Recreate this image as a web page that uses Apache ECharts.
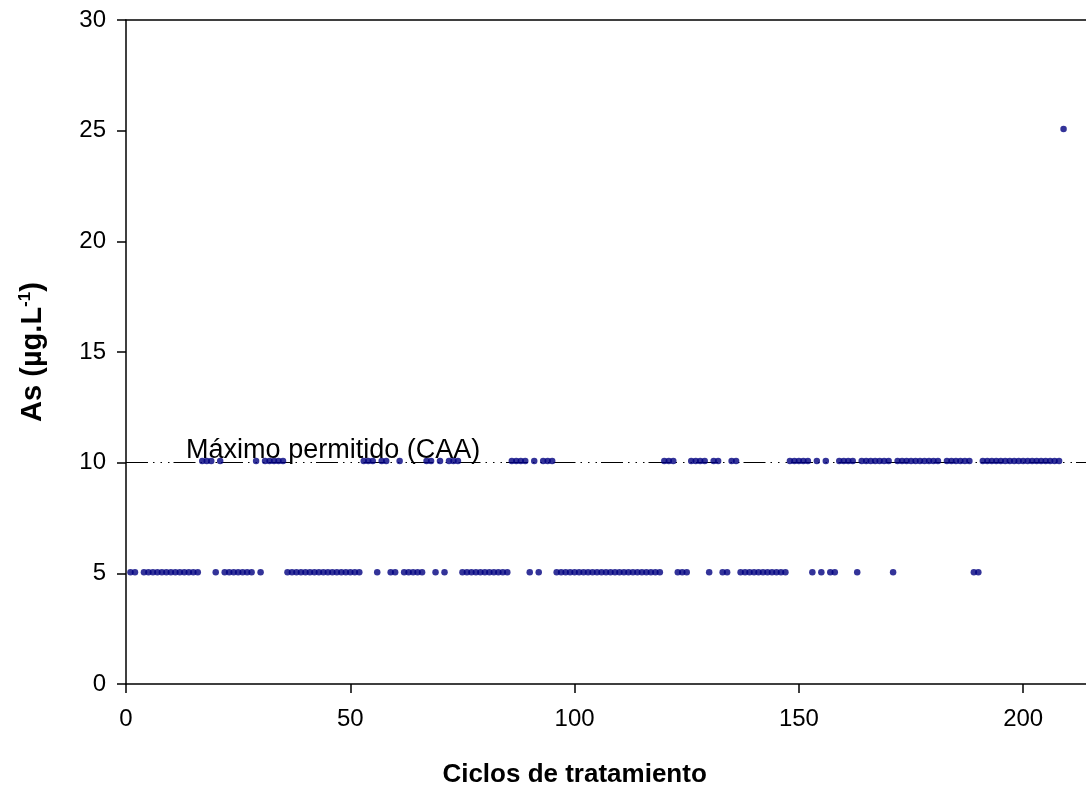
<!DOCTYPE html>
<html>
<head>
<meta charset="utf-8">
<style>
  html, body { margin: 0; padding: 0; background: #ffffff; }
  #chart { width: 1086px; height: 792px; }
</style>
<script src="https://cdn.jsdelivr.net/npm/echarts@6/dist/echarts.min.js"></script>
</head>
<body>
<div id="chart"></div>
<script>
// ---- data ----
const xTickValues = [0, 50, 100, 150, 200];
const yTickValues = [0, 5, 10, 15, 20, 25, 30];

// cycles whose As reading sits on the ~5 level
const cyclesLow = [1, 2, 4, 5, 6, 7, 8, 9, 10, 11, 12, 13, 14, 15, 16, 20, 22, 23, 24, 25, 26, 27, 28, 30,
  36, 37, 38, 39, 40, 41, 42, 43, 44, 45, 46, 47, 48, 49, 50, 51, 52, 56, 59, 60, 62, 63, 64, 65, 66, 69, 71,
  75, 76, 77, 78, 79, 80, 81, 82, 83, 84, 85, 90, 92,
  96, 97, 98, 99, 100, 101, 102, 103, 104, 105, 106, 107, 108, 109, 110, 111, 112, 113, 114, 115, 116, 117, 118, 119,
  123, 124, 125, 130, 133, 134, 137, 138, 139, 140, 141, 142, 143, 144, 145, 146, 147,
  153, 155, 157, 158, 163, 171, 189, 190];
const valueLow = 5.05;

// cycles whose As reading sits on the ~10 level
const cyclesHigh = [17, 18, 19, 21, 29, 31, 32, 33, 34, 35, 53, 54, 55, 57, 58, 61, 67, 68, 70, 72, 73, 74,
  86, 87, 88, 89, 91, 93, 94, 95, 120, 121, 122, 126, 127, 128, 129, 131, 132, 135, 136,
  148, 149, 150, 151, 152, 154, 156, 159, 160, 161, 162, 164, 165, 166, 167, 168, 169, 170,
  172, 173, 174, 175, 176, 177, 178, 179, 180, 181, 183, 184, 185, 186, 187, 188,
  191, 192, 193, 194, 195, 196, 197, 198, 199, 200, 201, 202, 203, 204, 205, 206, 207, 208];
const valueHigh = 10.07;

// the single outlier
const cyclesPeak = [209];
const valuesPeak = [25.07];

const limitValue = 10;
const limitLabel = 'Máximo permitido (CAA)';
const xTitle = 'Ciclos de tratamiento';

// ---- build series data ----
const points = [];
cyclesLow.forEach(c => points.push([c, valueLow]));
cyclesHigh.forEach(c => points.push([c, valueHigh]));
cyclesPeak.forEach((c, i) => points.push([c, valuesPeak[i]]));
points.sort((a, b) => a[0] - b[0]);

const FONT = "'Liberation Sans', Arial, sans-serif";
const chart = echarts.init(document.getElementById('chart'), null, { renderer: 'canvas' });

chart.setOption({
  animation: false,
  backgroundColor: '#ffffff',
  grid: { left: 126, right: 0, top: 20, bottom: 108, containLabel: false },
  xAxis: [{
    type: 'value', min: 0, max: 214, interval: 50,
    axisLine: { show: true, onZero: false, lineStyle: { color: '#000', width: 1.5 } },
    axisTick: { show: true, inside: false, length: 9, customValues: xTickValues, lineStyle: { color: '#000', width: 1.5 } },
    axisLabel: { show: true, customValues: xTickValues, margin: 23, color: '#000', fontSize: 24, fontFamily: FONT },
    splitLine: { show: false }
  }, {
    type: 'value', min: 0, max: 214, position: 'top',
    axisLine: { show: true, onZero: false, lineStyle: { color: '#000', width: 1.5 } },
    axisTick: { show: false }, axisLabel: { show: false }, splitLine: { show: false }
  }],
  yAxis: {
    type: 'value', min: 0, max: 30, interval: 5,
    name: 'As (µg.L{sup|-1})',
    nameLocation: 'middle', nameGap: 78,
    nameTextStyle: {
      color: '#000', fontSize: 29, fontWeight: 'bold', fontFamily: FONT,
      rich: { sup: { fontSize: 17, fontWeight: 'bold', fontFamily: FONT, color: '#000', verticalAlign: 'top', padding: [0, 0, 14, 0] } }
    },
    axisLine: { show: true, onZero: false, lineStyle: { color: '#000', width: 1.5 } },
    axisTick: { show: true, inside: false, length: 9, lineStyle: { color: '#000', width: 1.5 } },
    axisLabel: { margin: 20, color: '#000', fontSize: 24, fontFamily: FONT },
    splitLine: { show: false }
  },
  series: [{
    type: 'scatter',
    data: points,
    symbol: 'circle',
    symbolSize: 6.5,
    itemStyle: { color: '#000080' },
    z: 3,
    markLine: {
      silent: true,
      symbol: ['none', 'none'],
      label: { show: false },
      lineStyle: { color: '#000', width: 1, type: [22, 5, 1.5, 6, 1.5, 6, 1.5, 4] },
      data: [{ yAxis: limitValue }],
      z: 2
    }
  }]
});

// annotation text tied to data coordinates
const anchor = chart.convertToPixel({ gridIndex: 0 }, [13.4, limitValue]);
const xAxisCenter = chart.convertToPixel({ gridIndex: 0 }, [100, 0]);
chart.setOption({
  graphic: [{
    type: 'text', x: anchor[0], y: anchor[1] + 1, z: 10,
    style: { text: limitLabel, fill: '#000', font: '27px ' + FONT, align: 'left', verticalAlign: 'bottom' }
  }, {
    type: 'text', x: xAxisCenter[0], y: 775, z: 10,
    style: { text: xTitle, fill: '#000', font: 'bold 26px ' + FONT, align: 'center', verticalAlign: 'middle' }
  }]
});
</script>
</body>
</html>
